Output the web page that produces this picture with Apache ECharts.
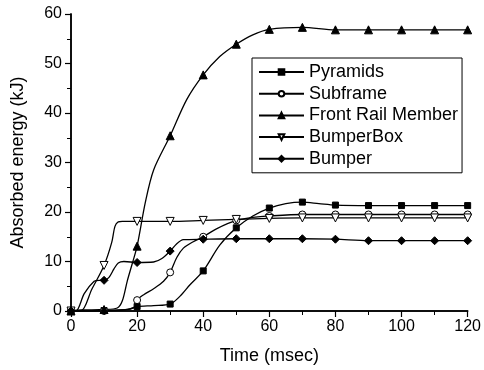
<!DOCTYPE html>
<html>
<head>
<meta charset="utf-8">
<style>
  html, body { margin: 0; padding: 0; background: #fff; }
  #chart { width: 484px; height: 370px; }
</style>
<script src="https://cdn.jsdelivr.net/npm/echarts@6/dist/echarts.min.js"></script>
</head>
<body>
<div id="chart"></div>
<script>
// Absorbed energy of each crash structure over time (msec, kJ)
const seriesNames = ['Pyramids', 'Subframe', 'Front Rail Member', 'BumperBox', 'Bumper'];

const pyramidsT = [0, 5, 10, 15, 18, 20, 25, 30, 33, 36, 40, 45, 50, 55, 60, 65, 70, 75, 80, 90, 100, 110, 120];
const pyramidsE = [0, 0, 0.1, 0.2, 0.5, 0.9, 1.1, 1.4, 3.0, 5.3, 8.1, 13.3, 16.8, 19.2, 20.8, 21.7, 22.0, 21.7, 21.4, 21.3, 21.3, 21.3, 21.3];

const subframeT = [0, 10, 15, 18, 19.5, 20, 22, 25, 28, 30, 32, 34, 37, 40, 44, 50, 55, 60, 70, 80, 90, 100, 110, 120];
const subframeE = [0, 0, 0.2, 0.4, 1.0, 2.2, 3.3, 4.5, 6.0, 7.8, 10.8, 12.7, 14.0, 15.0, 16.6, 18.3, 18.9, 19.2, 19.5, 19.5, 19.5, 19.5, 19.5, 19.5];

const frontRailT = [0, 3, 10, 14, 15.5, 17, 18.5, 20, 22.5, 25, 30, 35, 40, 45, 50, 55, 60, 70, 80, 90, 100, 110, 120];
const frontRailE = [0, 0.2, 0.3, 0.6, 2.0, 6.0, 9.5, 13.1, 22.0, 28.5, 35.4, 42.7, 47.7, 51.4, 53.9, 55.8, 56.9, 57.3, 56.8, 56.8, 56.8, 56.8, 56.8];

const bumperBoxT = [0, 3, 6.3, 10, 12.3, 13.3, 14.3, 15.5, 20, 30, 40, 50, 60, 70, 80, 90, 100, 110, 120];
const bumperBoxE = [0, 0, 4.4, 9.2, 13.8, 17.1, 18.0, 18.1, 18.1, 18.1, 18.3, 18.5, 18.7, 18.8, 18.8, 18.8, 18.8, 18.8, 18.8];

const bumperT = [0, 1.5, 4, 7, 8.5, 10, 11.5, 13, 14.3, 16, 20, 25, 27.5, 30, 32, 34, 40, 50, 60, 70, 80, 90, 100, 110, 120];
const bumperE = [0, 0, 3.5, 6.0, 6.2, 6.2, 6.8, 8.5, 9.7, 10.0, 9.8, 9.9, 10.6, 12.1, 13.6, 14.4, 14.5, 14.6, 14.6, 14.6, 14.5, 14.2, 14.2, 14.2, 14.2];

const xTicks = [0, 20, 40, 60, 80, 100, 120];
const yTicks = [0, 10, 20, 30, 40, 50, 60];

const FONT = '"Liberation Sans", Arial, sans-serif';

// markers only on every 10 msec sample
function build(ts, es) {
  return ts.map((t, i) => (t % 10 === 0 ? [t, es[i]] : { value: [t, es[i]], symbol: 'none' }));
}

function lineSeries(name, ts, es, symbol, filled, size, rotate) {
  return {
    name: name,
    type: 'line',
    data: build(ts, es),
    smooth: 0.3,
    symbol: symbol,
    symbolSize: size,
    symbolRotate: rotate || 0,
    showAllSymbol: true,
    lineStyle: { color: '#000', width: 1.3 },
    itemStyle: { color: filled ? '#000' : '#fff', borderColor: '#000', borderWidth: 1 },
    emphasis: { disabled: true },
    z: 3
  };
}

const chart = echarts.init(document.getElementById('chart'), null, { renderer: 'canvas' });

chart.setOption({
  animation: false,
  backgroundColor: '#fff',
  grid: { left: 71, right: 14, top: 14, bottom: 58, show: false },
  legend: {
    data: seriesNames,
    orient: 'vertical',
    left: 252,
    top: 58,
    itemWidth: 45,
    itemHeight: 7,
    itemGap: 3.7,
    padding: [5, 4, 5, 6],
    borderColor: '#000',
    borderWidth: 1,
    backgroundColor: '#fff',
    textStyle: { fontFamily: FONT, fontSize: 18, color: '#000', lineHeight: 18 },
    selectedMode: false
  },
  xAxis: [{
    type: 'value',
    min: xTicks[0],
    max: xTicks[xTicks.length - 1],
    interval: 20,
    name: 'Time (msec)',
    nameLocation: 'middle',
    nameGap: 36,
    nameTextStyle: { fontFamily: FONT, fontSize: 18, color: '#000' },
    axisLine: { show: true, onZero: false, lineStyle: { color: '#000', width: 1.5 } },
    axisTick: { show: true, length: 6, lineStyle: { color: '#000', width: 1.2 } },
    minorTick: { show: true, splitNumber: 2, length: 4, lineStyle: { color: '#000', width: 1 } },
    axisLabel: { fontFamily: FONT, fontSize: 16, color: '#000', margin: 8 },
    splitLine: { show: false }
  }, {
    type: 'value',
    position: 'top',
    min: 0, max: 120, interval: 20,
    axisLine: { show: true, lineStyle: { color: '#000', width: 1.5 } },
    axisTick: { show: false },
    axisLabel: { show: false },
    splitLine: { show: false }
  }],
  yAxis: [{
    type: 'value',
    min: yTicks[0],
    max: yTicks[yTicks.length - 1],
    interval: 10,
    name: 'Absorbed energy (kJ)',
    nameLocation: 'middle',
    nameGap: 44,
    nameTextStyle: { fontFamily: FONT, fontSize: 18, color: '#000' },
    axisLine: { show: true, onZero: false, lineStyle: { color: '#000', width: 1.5 } },
    axisTick: { show: true, length: 6, lineStyle: { color: '#000', width: 1.2 } },
    minorTick: { show: true, splitNumber: 2, length: 4, lineStyle: { color: '#000', width: 1 } },
    axisLabel: { fontFamily: FONT, fontSize: 16, color: '#000', margin: 9 },
    splitLine: { show: false }
  }, {
    type: 'value',
    position: 'right',
    min: 0, max: 60, interval: 10,
    axisLine: { show: true, lineStyle: { color: '#000', width: 1.5 } },
    axisTick: { show: false },
    axisLabel: { show: false },
    splitLine: { show: false }
  }],
  series: [
    lineSeries(seriesNames[0], pyramidsT, pyramidsE, 'rect', true, 6),
    lineSeries(seriesNames[1], subframeT, subframeE, 'circle', false, 7),
    lineSeries(seriesNames[2], frontRailT, frontRailE, 'triangle', true, 8),
    lineSeries(seriesNames[3], bumperBoxT, bumperBoxE, 'triangle', false, 8, 180),
    lineSeries(seriesNames[4], bumperT, bumperE, 'diamond', true, 8)
  ]
});
</script>
</body>
</html>
